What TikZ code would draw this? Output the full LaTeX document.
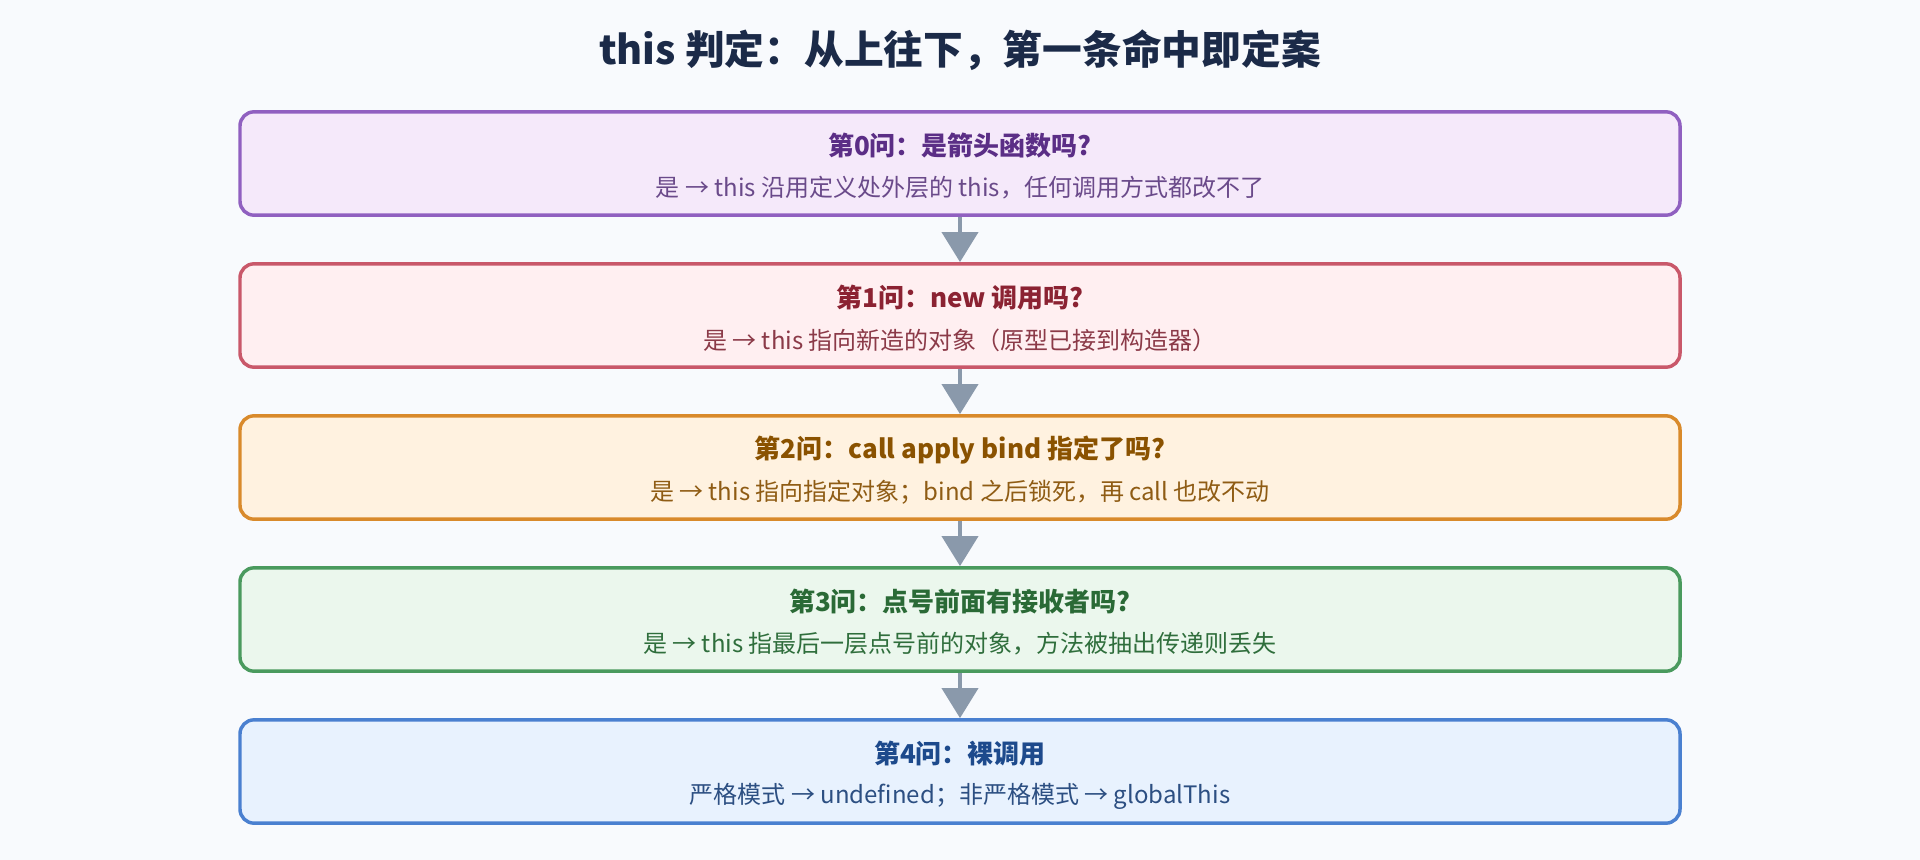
\documentclass[tikz,border=0pt]{standalone}
\usepackage{fontspec}
\setmainfont{Noto Sans CJK SC}
\usetikzlibrary{arrows.meta}
\definecolor{bg}{HTML}{F8FAFD}
\definecolor{maintitle}{HTML}{1B2A48}
\definecolor{arrowc}{HTML}{8A99AB}
\definecolor{pB}{HTML}{9060C0}\definecolor{pF}{HTML}{F5E9FA}\definecolor{pT}{HTML}{5B2E86}\definecolor{pS}{HTML}{6A4A8A}
\definecolor{rB}{HTML}{C9586A}\definecolor{rF}{HTML}{FFEFF1}\definecolor{rT}{HTML}{8B2232}\definecolor{rS}{HTML}{8B3A48}
\definecolor{oB}{HTML}{D98A2B}\definecolor{oF}{HTML}{FFF2E0}\definecolor{oT}{HTML}{8A5200}\definecolor{oS}{HTML}{8F5C14}
\definecolor{gB}{HTML}{4A9A5E}\definecolor{gF}{HTML}{EBF7ED}\definecolor{gT}{HTML}{2A6A36}\definecolor{gS}{HTML}{2F6E3C}
\definecolor{bB}{HTML}{4A80D0}\definecolor{bF}{HTML}{E8F2FE}\definecolor{bT}{HTML}{1D4A8C}\definecolor{bS}{HTML}{2C4F82}
\tikzset{
  qbox/.style={draw, line width=2.6pt, rounded corners=10.5pt, minimum width=1080pt, minimum height=77.5pt, inner sep=0pt},
  qtitle/.style={inner sep=0pt, font=\fontsize{19.5pt}{24pt}\selectfont\bfseries},
  qsub/.style={inner sep=0pt, font=\fontsize{18pt}{22pt}\selectfont},
  flow/.style={draw=arrowc, line width=3pt, -{Triangle[width=27pt,length=22.5pt]}, arrowc}
}
\begin{document}
\begin{tikzpicture}[x=0.75pt,y=-0.75pt]
\useasboundingbox[fill=bg] (0,0) rectangle (1920,860);
\node[inner sep=0pt, text=maintitle, font=\fontsize{29.8pt}{36pt}\selectfont\bfseries] (title) at (960,50) {this 判定：从上往下，第一条命中即定案};

\node[qbox, draw=pB, fill=pF] (b0) at (960,163.5) {};
\node[qbox, draw=rB, fill=rF] (b1) at (960,315.5) {};
\node[qbox, draw=oB, fill=oF] (b2) at (960,467.5) {};
\node[qbox, draw=gB, fill=gF] (b3) at (960,619.5) {};
\node[qbox, draw=bB, fill=bF] (b4) at (960,771.5) {};

\node[qtitle, text=pT] (t0) at (960,146) {第0问：是箭头函数吗?};
\node[qsub, text=pS] (s0) at (960,188) {是 → this 沿用定义处外层的 this，任何调用方式都改不了};
\node[qtitle, text=rT] (t1) at (960,298) {第1问：new 调用吗?};
\node[qsub, text=rS] (s1) at (960,340) {是 → this 指向新造的对象（原型已接到构造器）};
\node[qtitle, text=oT] (t2) at (960,450) {第2问：call apply bind 指定了吗?};
\node[qsub, text=oS] (s2) at (960,492) {是 → this 指向指定对象；bind 之后锁死，再 call 也改不动};
\node[qtitle, text=gT] (t3) at (960,602) {第3问：点号前面有接收者吗?};
\node[qsub, text=gS] (s3) at (960,644) {是 → this 指最后一层点号前的对象，方法被抽出传递则丢失};
\node[qtitle, text=bT] (t4) at (960,754) {第4问：裸调用};
\node[qsub, text=bS] (s4) at (960,796) {严格模式 → undefined；非严格模式 → globalThis};

\draw[flow] (b0.south) -- (b1.north);
\draw[flow] (b1.south) -- (b2.north);
\draw[flow] (b2.south) -- (b3.north);
\draw[flow] (b3.south) -- (b4.north);
\end{tikzpicture}
\end{document}
